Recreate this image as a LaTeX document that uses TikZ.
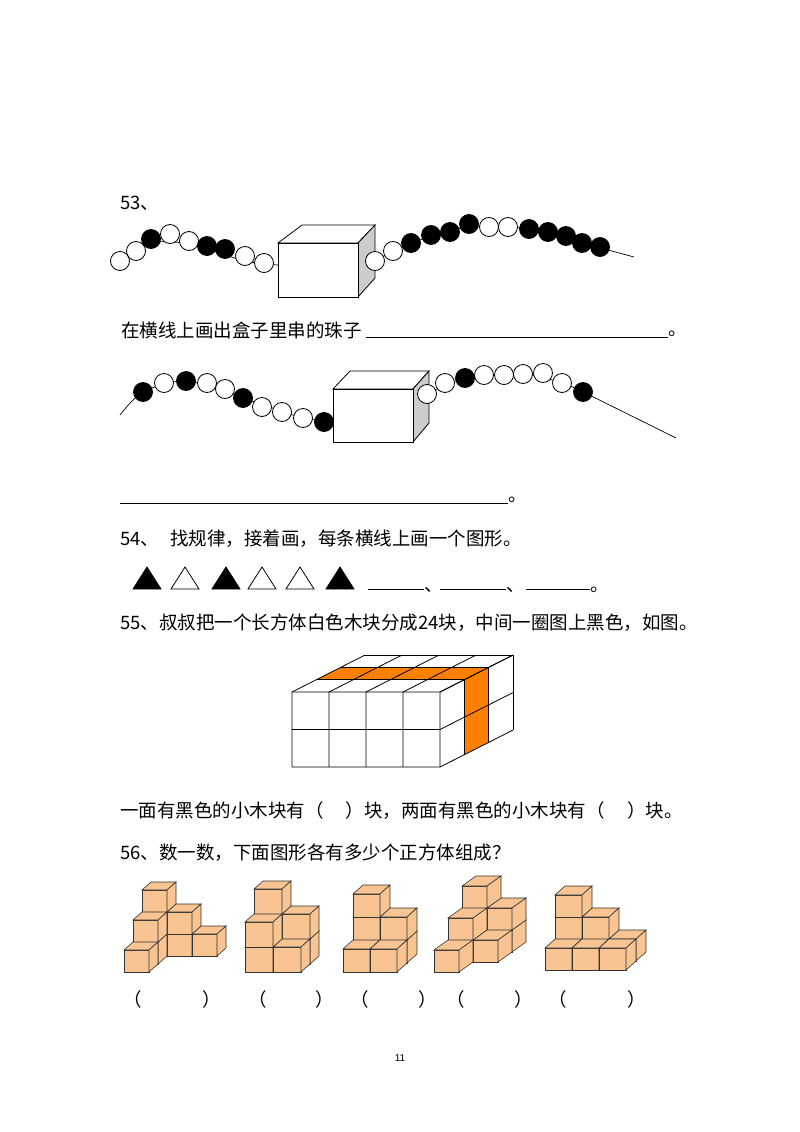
\documentclass[tikz,border=0pt]{standalone}
\usepackage{fontspec}
\setmainfont{Liberation Sans}
\newfontfamily\cjk{Noto Sans CJK SC}
\definecolor{wood}{RGB}{247,196,146}
\definecolor{paint}{RGB}{255,128,0}
\newcommand\wcube[3]{% column, depth, level
	\filldraw[block] (#1,#3,#2) -- ++(1,0,0) -- ++(0,1,0) -- ++(-1,0,0) -- cycle;
	\filldraw[block] (#1,#3+1,#2) -- ++(1,0,0) -- ++(0,0,1) -- ++(-1,0,0) -- cycle;
	\filldraw[block] (#1+1,#3,#2) -- ++(0,0,1) -- ++(0,1,0) -- ++(0,0,-1) -- cycle;
}
\begin{document}
\begin{tikzpicture}[x=1pt,y=-1pt,
	txt/.style={anchor=west,inner sep=0,font=\cjk\fontsize{18.5}{21}\selectfont},
	bead/.style={circle,draw,line width=0.8pt,minimum size=19pt,inner sep=0,fill=white},
	box face/.style={draw,line width=0.8pt,fill=white},
	block/.style={draw=black!80,line width=0.6pt,fill=wood},
	tri/.style={draw,line width=0.8pt}]
	\useasboundingbox (0,0) rectangle (800,1132);
	% 53
	\node[txt] (n53) at (120,203) {53、};
	\draw[line width=0.7pt] plot[smooth] coordinates {(120,261) (151,243) (189,244) (245,261) (278,265)};
	\foreach \x/\y/\c [count=\i] in {120/261/white,136/251/white,151/239/black,170/234/white,189/241/white,207/246/black,225/249/black,245/256/white,264/263/white}
		\node[bead,fill=\c] (a\i) at (\x,\y) {};
	\filldraw[box face] (278,243) -- (302,225) -- (375,225) -- (358,243) -- cycle;
	\filldraw[box face,fill=black!20] (358,243) -- (375,225) -- (375,278) -- (358,297) -- cycle;
	\filldraw[box face] (278,243) rectangle (358,297);
	\draw[line width=0.7pt] plot[smooth] coordinates {(375,261) (411,243) (469,227) (529,229) (582,243) (634,257)};
	\foreach \x/\y/\c [count=\i] in {375/261/white,393/251/white,411/243/black,431/235/black,450/232/black,469/224/black,489/227/white,508/227/white,529/229/black,548/232/black,566/236/black,582/243/black,600/247/black}
		\node[bead,fill=\c] (b\i) at (\x,\y) {};
	\node[txt] (q53) at (121,330) {在横线上画出盒子里串的珠子};
	\draw[line width=0.7pt] (366,337) -- (668,337) coordinate (e53);
	\node[txt,anchor=south west] (d53) at (e53) {。};
	% row 2
	\draw[line width=0.7pt] plot[smooth] coordinates {(120,415) (143,392) (186,381) (243,398) (303,418) (333,420)};
	\foreach \x/\y/\c [count=\i] in {143/392/black,164/383/white,186/381/black,207/383/white,225/389/white,243/398/black,262/407/white,282/412/white,303/418/white,324/422/black}
		\node[bead,fill=\c] (c\i) at (\x,\y) {};
	\filldraw[box face] (333,389) -- (350,371) -- (429,371) -- (413,389) -- cycle;
	\filldraw[box face,fill=black!20] (413,389) -- (429,371) -- (429,423) -- (413,442) -- cycle;
	\filldraw[box face] (333,389) rectangle (413,442);
	\draw[line width=0.7pt] plot[smooth] coordinates {(427,394) (465,378) (523,374) (562,383) (583,392) (676,438)};
	\foreach \x/\y/\c [count=\i] in {427/394/white,445/383/white,465/378/black,484/375/white,504/375/white,523/374/white,543/373/white,562/383/white,583/392/black}
		\node[bead,fill=\c] (d\i) at (\x,\y) {};
	\draw[line width=0.7pt] (120,503) -- (508,503) coordinate (e53b);
	\node[txt,anchor=south west] (d53b) at (e53b) {。};
	% 54
	\node[txt] (q54) at (120,539) {54、\hspace{0.6em}找规律，接着画，每条横线上画一个图形。};
	\foreach \x/\c [count=\i] in {147/black,185/white,226/black,262/white,300/white,340/black}
		\filldraw[tri,fill=\c] (\x-14,589) coordinate (t\i) -- (\x+14,589) -- (\x,567) -- cycle;
	\draw[line width=0.7pt] (368,589) -- (424,589);
	\node[txt,anchor=south west] (s1) at (424,593) {、};
	\draw[line width=0.7pt] (440,589) -- (506,589);
	\node[txt,anchor=south west] (s2) at (506,593) {、};
	\draw[line width=0.7pt] (526,589) -- (590,589);
	\node[txt,anchor=south west] (s3) at (590,593) {。};
	% 55
	\node[txt] (q55) at (120,623) {55、叔叔把一个长方体白色木块分成24块，中间一圈图上黑色，如图。};
	\begin{scope}[shift={(292,767)},x={(37pt,0pt)},y={(0pt,37.5pt)},z={(24.3pt,12.3pt)},line width=0.8pt]
		\fill[white] (0,0,0) -- (4,0,0) -- (4,0,3) -- (4,2,3) -- (0,2,3) -- (0,2,0) -- cycle;
		\fill[paint] (0,2,1) -- (4,2,1) -- (4,2,2) -- (0,2,2) -- cycle;
		\fill[paint] (4,0,1) -- (4,2,1) -- (4,2,2) -- (4,0,2) -- cycle;
		\foreach \i in {0,...,4} \draw (\i,0,0) -- (\i,2,0) -- (\i,2,3);
		\foreach \k in {0,1,2} \draw (0,\k,0) -- (4,\k,0) -- (4,\k,3);
		\foreach \j in {1,2,3} \draw (0,2,\j) -- (4,2,\j) -- (4,0,\j);
	\end{scope}
	\node[txt] (q55b) at (120,811) {一面有黑色的小木块有（\hspace{1.2em}）块，两面有黑色的小木块有（\hspace{1.2em}）块。};
	% 56
	\node[txt] (q56) at (120,853) {56、数一数，下面图形各有多少个正方体组成？};
	\begin{scope}[shift={(124,972)},x={(25pt,0pt)},y={(0pt,22pt)},z={(9pt,8pt)}]
		\wcube{0}{2}{0}\wcube{1}{2}{0}\wcube{2}{2}{0}\wcube{0}{2}{1}\wcube{1}{2}{1}\wcube{0}{2}{2}
		\wcube{0}{1}{0}\wcube{0}{1}{1}\wcube{0}{0}{0}
	\end{scope}
	\begin{scope}[shift={(245,972)},x={(28pt,0pt)},y={(0pt,25pt)},z={(9pt,8pt)}]
		\wcube{0}{1}{0}\wcube{1}{1}{0}\wcube{0}{1}{1}\wcube{1}{1}{1}\wcube{0}{1}{2}
		\wcube{0}{0}{0}\wcube{1}{0}{0}\wcube{0}{0}{1}
	\end{scope}
	\begin{scope}[shift={(343,972)},x={(27pt,0pt)},y={(0pt,23pt)},z={(10pt,9pt)}]
		\wcube{0}{1}{0}\wcube{1}{1}{0}\wcube{0}{1}{1}\wcube{1}{1}{1}\wcube{0}{1}{2}
		\wcube{0}{0}{0}\wcube{1}{0}{0}
	\end{scope}
	\begin{scope}[shift={(434,972)},x={(25pt,0pt)},y={(0pt,22pt)},z={(14pt,10pt)}]
		\wcube{0}{2}{0}\wcube{1}{2}{0}\wcube{0}{2}{1}\wcube{1}{2}{1}\wcube{0}{2}{2}
		\wcube{0}{1}{0}\wcube{1}{1}{0}\wcube{0}{1}{1}\wcube{0}{0}{0}
	\end{scope}
	\begin{scope}[shift={(545,970)},x={(27pt,0pt)},y={(0pt,22pt)},z={(10pt,9pt)}]
		\wcube{0}{1}{0}\wcube{1}{1}{0}\wcube{2}{1}{0}\wcube{0}{1}{1}\wcube{1}{1}{1}\wcube{0}{1}{2}
		\wcube{0}{0}{0}\wcube{1}{0}{0}\wcube{2}{0}{0}
	\end{scope}
	\foreach \l/\r [count=\i] in {133/212,258/325,360/428,456/524,558/637} {
		\node[txt,anchor=center] (p\i) at (\l,999) {（};
		\node[txt,anchor=center] (r\i) at (\r,999) {）};
	}
	\node[font=\fontsize{10}{12}\selectfont\rmfamily] (pg) at (400,1058) {11};
\end{tikzpicture}
\end{document}
